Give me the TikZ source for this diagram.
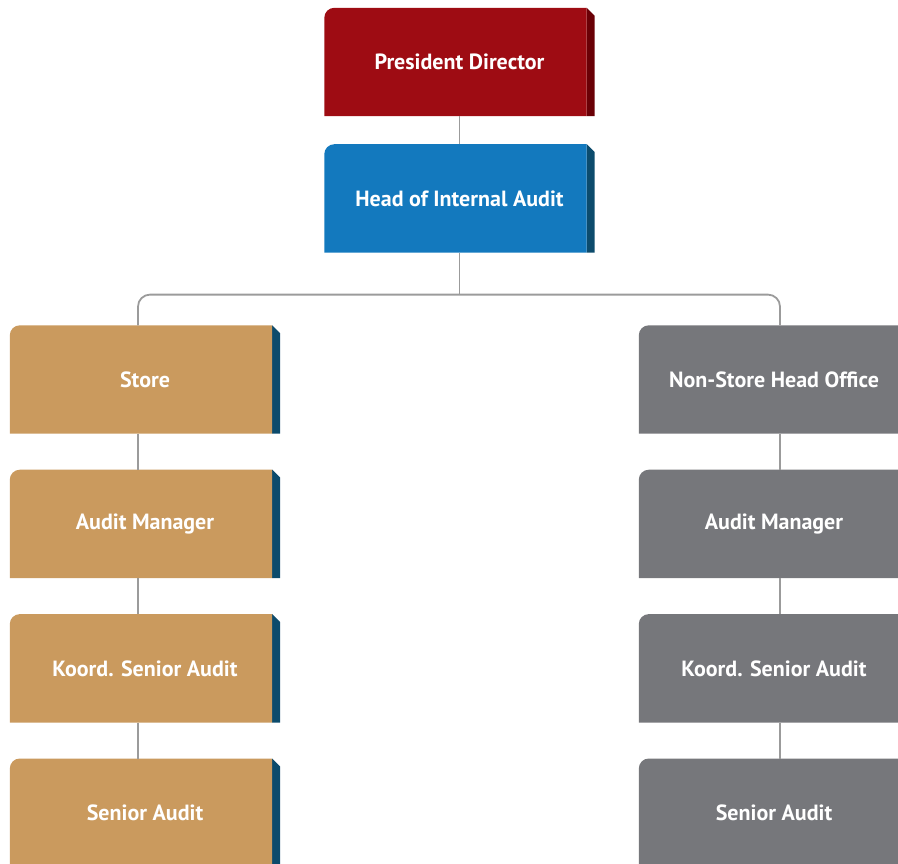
\documentclass[tikz,border=0pt]{standalone}
\usepackage{fontspec}
\setmainfont{PT Sans}
\usepackage{tikz}
\usetikzlibrary{positioning, backgrounds}
\definecolor{presred}{HTML}{9E0C13}
\definecolor{presside}{HTML}{6A0006}
\definecolor{auditblue}{HTML}{1379BE}
\definecolor{deepblue}{HTML}{0C4B6C}
\definecolor{storetan}{HTML}{CA9A5E}
\definecolor{officegrey}{HTML}{76777B}
\definecolor{linegrey}{HTML}{9B9B9B}
\tikzset{
    orgbox/.style={minimum width=270pt, minimum height=108pt, inner sep=0pt,
        text=white, font=\bfseries\fontsize{22}{25}\selectfont}, % each box, side strip included
    link/.style={draw=linegrey, line width=1.8pt}, % connectors between boxes
    }

\begin{document}
\begin{tikzpicture}[x=1pt, y=-1pt]
\useasboundingbox[clip] (0,0) rectangle (898,864);

\node[orgbox] (pd) at (459.5,62) {President Director};
\node[orgbox, below=28pt of pd] (hia) {Head of Internal Audit};

\node[orgbox] (store) at (145,379.5) {Store};
\node[orgbox, below=36pt of store] (sam) {Audit Manager};
\node[orgbox, below=36pt of sam] (sksa) {Koord. Senior Audit};
\node[orgbox, below=36pt of sksa] (ssa) {Senior Audit};

\node[orgbox] (nsho) at (774,379.5) {Non-Store Head Office};
\node[orgbox, below=36pt of nsho] (nam) {Audit Manager};
\node[orgbox, below=36pt of nam] (nksa) {Koord. Senior Audit};
\node[orgbox, below=36pt of nksa] (nsa) {Senior Audit};

% box faces and side strips
\begin{scope}[on background layer]
\foreach \n/\c/\s in {pd/presred/presside, hia/auditblue/deepblue,
    store/storetan/deepblue, sam/storetan/deepblue, sksa/storetan/deepblue, ssa/storetan/deepblue,
    nsho/officegrey/officegrey, nam/officegrey/officegrey, nksa/officegrey/officegrey, nsa/officegrey/officegrey} {
  \fill[\s] ([xshift=-8pt]\n.north east) -- ([yshift=-8pt]\n.north east) -- (\n.south east) -- ([xshift=-8pt]\n.south east) -- cycle;
  \fill[\c] (\n.south west) [rounded corners=10pt] -- (\n.north west) [sharp corners] -- ([xshift=-8pt]\n.north east) -- ([xshift=-8pt]\n.south east) -- cycle;
}
\end{scope}

\coordinate[below=42pt of hia.south] (split);
\draw[link] (pd.south) -- (hia.north);
\draw[link] (hia.south) -- (split);
\draw[link, rounded corners=12pt] ([xshift=-7pt]store.north) |- (split) -| ([xshift=6pt]nsho.north);

\foreach \a/\b in {store/sam, sam/sksa, sksa/ssa}
  \draw[link] ([xshift=-7pt]\a.south) -- ([xshift=-7pt]\b.north);
\foreach \a/\b in {nsho/nam, nam/nksa, nksa/nsa}
  \draw[link] ([xshift=6pt]\a.south) -- ([xshift=6pt]\b.north);

\end{tikzpicture}
\end{document}
